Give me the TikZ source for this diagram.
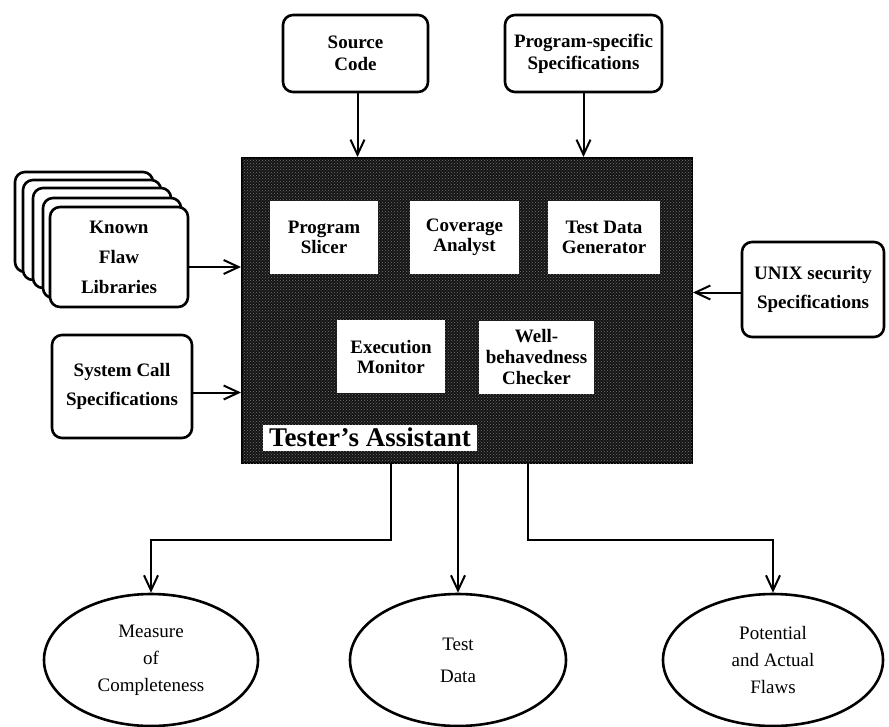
\documentclass[tikz,border=0pt]{standalone}
\usepackage{fontspec}
\setmainfont{Liberation Serif}
\usetikzlibrary{arrows.meta,patterns,shapes.geometric}
\begin{document}
\begin{tikzpicture}[x=1pt,y=-1pt,
  arr/.style={line width=2pt,-{Straight Barb[length=15pt,width=14pt,line width=2pt]}},
  inbox/.style={draw=black,line width=2.6pt,rounded corners=10pt,fill=white,inner sep=0pt,align=center,font=\bfseries\fontsize{19}{22}\selectfont},
  tool/.style={fill=white,inner sep=0pt,align=center,minimum width=108pt,minimum height=73pt,font=\bfseries\fontsize{19}{20}\selectfont},
  outp/.style={ellipse,draw=black,line width=2.6pt,inner sep=0pt,minimum width=216pt,minimum height=132pt,align=center,font=\fontsize{19}{27}\selectfont}
]
\useasboundingbox (0,0) rectangle (889,726);
% main box
\node[draw=black,line width=2pt,fill=black!92,minimum width=450pt,minimum height=305pt,inner sep=0pt,
  postaction={pattern=crosshatch dots,pattern color=black!55}] (main) at (467,310.5) {};
\node[tool] (ps) at (324,237.5) {Program\\Slicer};
\node[tool,minimum width=109pt] (ca) at (464.5,237.5) {Coverage\\Analyst};
\node[tool,minimum width=112pt] (tdg) at (604,237.5) {Test Data\\Generator};
\node[tool] (em) at (391,356.5) {Execution\\Monitor};
\node[tool,minimum width=115pt,font=\bfseries\fontsize{19}{21}\selectfont] (wbc) at (536.5,357) {Well-\\behavedness\\Checker};
\node[fill=white,inner sep=0pt,minimum width=214pt,minimum height=26pt,font=\bfseries\fontsize{27}{27}\selectfont] (ta) at (370,437.5) {Tester’s Assistant};
% inputs
\node[inbox,minimum width=145pt,minimum height=77pt] (src) at (355.5,53.5) {Source\\Code};
\node[inbox,minimum width=157pt,minimum height=77pt] (pss) at (583.5,53.5) {Program-specific\\Specifications};
\node[inbox,minimum width=138pt,minimum height=100pt] (kfl4) at (84,222) {};
\node[inbox,minimum width=138pt,minimum height=100pt] (kfl3) at (92,230) {};
\node[inbox,minimum width=138pt,minimum height=100pt] (kfl2) at (102,238) {};
\node[inbox,minimum width=138pt,minimum height=100pt] (kfl1) at (112,248) {};
\node[inbox,minimum width=138pt,minimum height=100pt,font=\bfseries\fontsize{19}{30}\selectfont] (kfl) at (119,257) {Known\\Flaw\\Libraries};
\node[inbox,minimum width=140pt,minimum height=103pt,font=\bfseries\fontsize{19}{29}\selectfont] (scs) at (122,386.5) {System Call\\Specifications};
\node[inbox,minimum width=142pt,minimum height=95pt,font=\bfseries\fontsize{19}{29}\selectfont] (unix) at (813,289.5) {UNIX security\\Specifications};
% outputs
\node[outp,minimum width=214pt] (meas) at (151,660) {Measure\\of\\Completeness};
\node[outp,font=\fontsize{19}{32}\selectfont] (td) at (458,660) {Test\\Data};
\node[outp,minimum width=220pt] (paf) at (773,660) {Potential\\and Actual\\Flaws};
% connectors
\draw[arr] ([xshift=2pt]src.south) -- ([xshift=2pt]src.south |- main.north);
\draw[arr] (pss.south) -- (pss.south |- main.north);
\draw[arr] ([yshift=-10pt]kfl.east) -- ([yshift=-10pt]kfl.east -| main.west);
\draw[arr] ([yshift=-6pt]scs.east) -- ([yshift=-6pt]scs.east -| main.west);
\draw[arr] ([yshift=-3pt]unix.west) -- ([yshift=-3pt]unix.west -| main.east);
\coordinate (o1) at (391,463);
\coordinate (o2) at (458,463);
\coordinate (o3) at (528,463);
\draw[arr] (o1) -- ++(0,77) -| (meas.north);
\draw[arr] (o2) -- (td.north);
\draw[arr] (o3) -- ++(0,77) -| (paf.north);
\end{tikzpicture}
\end{document}
